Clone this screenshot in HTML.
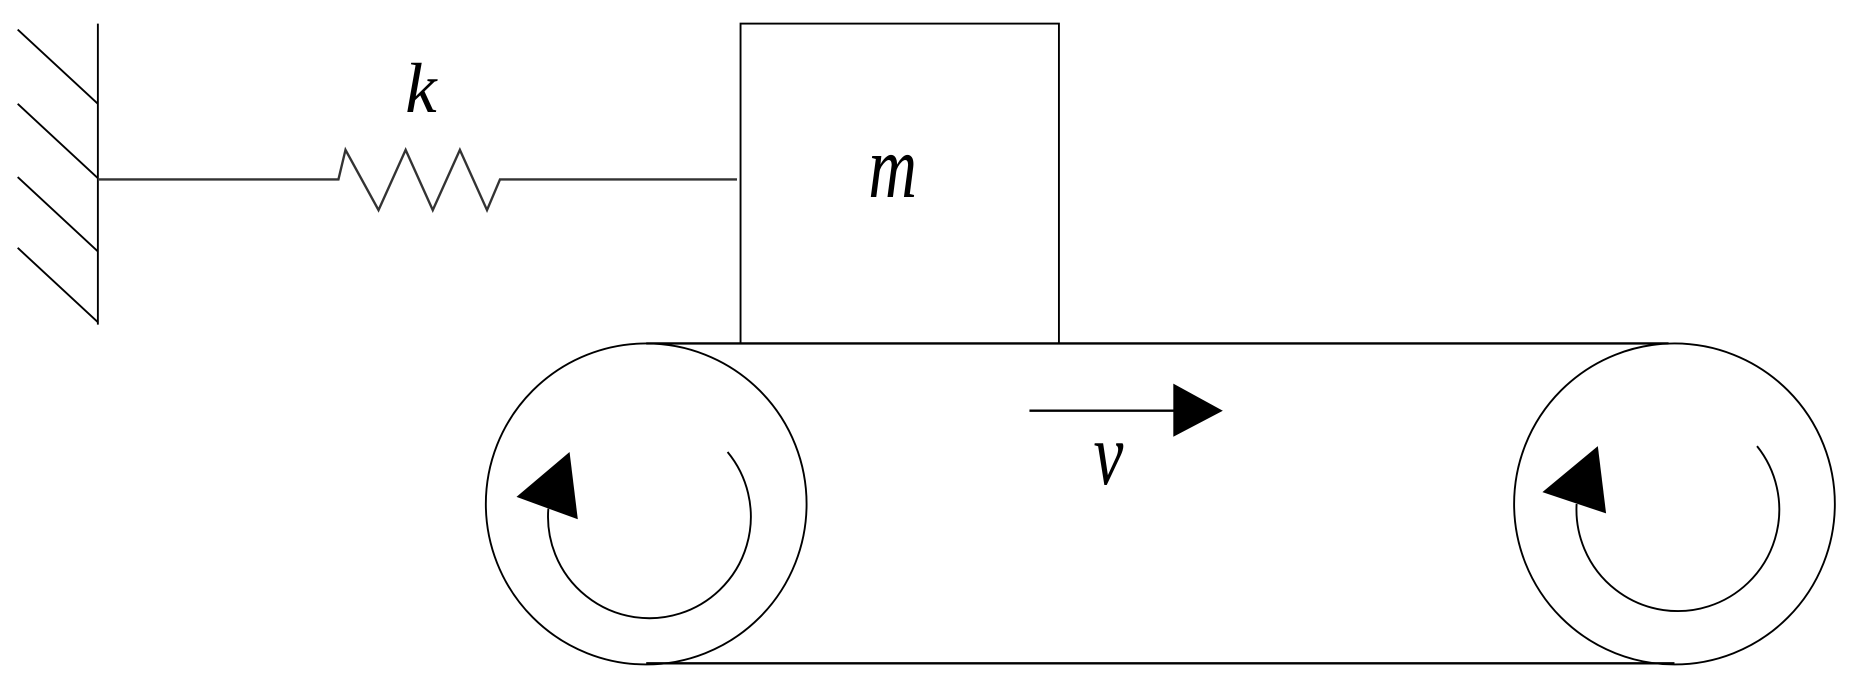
<!DOCTYPE html>
<html><head><style>html,body{margin:0;padding:0;background:#fff;}svg{display:block}</style></head>
<body>
<svg width="1849" height="681" viewBox="0 0 1568 577" preserveAspectRatio="none" xmlns="http://www.w3.org/2000/svg">
<g fill="none" stroke="#000" stroke-width="1.6">
<line x1="83" y1="20" x2="83" y2="275"/>
<line x1="15" y1="25" x2="83" y2="88"/>
<line x1="15" y1="88" x2="83" y2="151"/>
<line x1="15" y1="150" x2="83" y2="213"/>
<line x1="15" y1="210" x2="83" y2="273"/>
<polyline points="83,152 287,152 293,127 321,178 344,127 367,178 390,127 413,178 424,152 625,152" stroke="#333" stroke-width="2"/>
<rect x="628" y="20" width="270" height="271"/>
<line x1="548" y1="291" x2="1415" y2="291" stroke-width="2"/>
<line x1="548" y1="562" x2="1420" y2="562" stroke-width="2"/>
<circle cx="548" cy="427" r="136"/>
<circle cx="1420" cy="427" r="136"/>
<path d="M617,383 A86,86 0 1 1 465,431"/>
<path d="M1490,378 A86,86 0 1 1 1337,427"/>
<line x1="873" y1="348" x2="1000" y2="348" stroke-width="2"/>
</g>
<g fill="#000">
<polygon points="438,421 483,383 490,440"/>
<polygon points="1308,417 1355,378 1362,435"/>
<polygon points="995,325 1037,348 995,370"/>
</g>
<g font-family="'Liberation Serif',serif" font-style="italic" fill="#000">
<text x="357" y="95" font-size="60" text-anchor="middle">k</text>
<text transform="translate(757,167) scale(0.95,1.25)" font-size="60" text-anchor="middle">m</text>
<text transform="translate(940,410) scale(0.95,1.25)" font-size="60" text-anchor="middle">v</text>
</g>
</svg>
</body></html>
